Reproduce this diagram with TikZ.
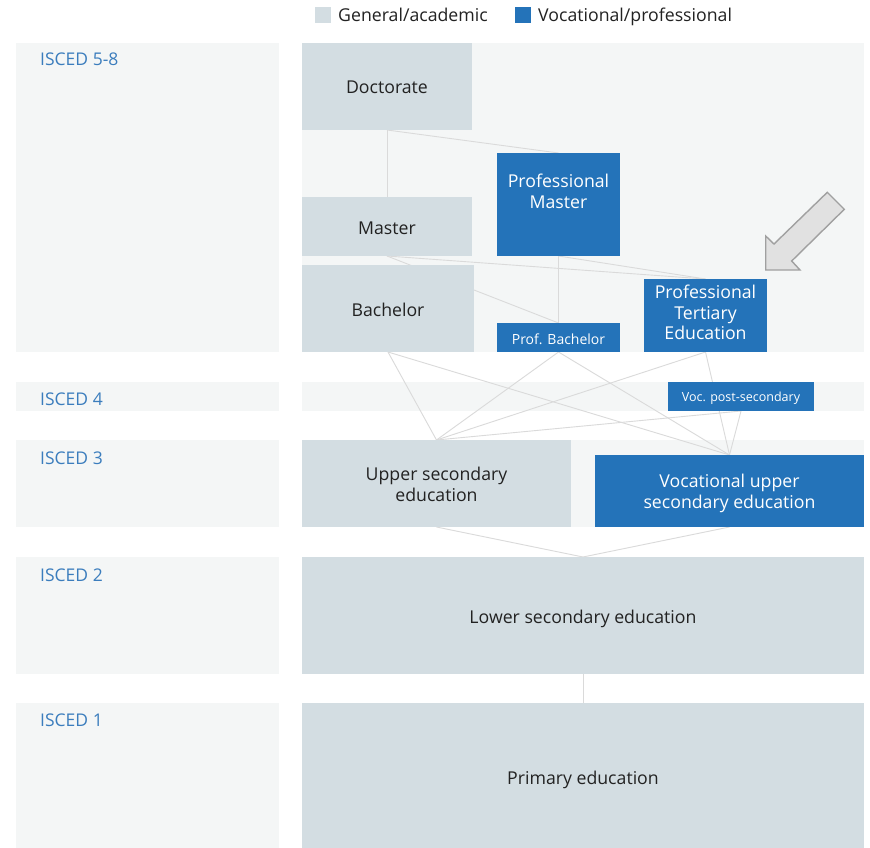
\documentclass[tikz,border=0pt]{standalone}
\usepackage{fontspec}
\setmainfont{Open Sans}
\definecolor{genc}{HTML}{D3DDE2}
\definecolor{vocc}{HTML}{2473B9}
\definecolor{bandc}{HTML}{F4F6F6}
\definecolor{labc}{HTML}{3B7DBD}
\definecolor{linec}{HTML}{DADADA}
\definecolor{txtc}{HTML}{222222}
\definecolor{arrf}{HTML}{E1E1E1}
\definecolor{arrd}{HTML}{A0A0A0}
\pgfdeclarelayer{bands}
\pgfdeclarelayer{lines}
\pgfsetlayers{bands,lines,main}
\begin{document}
\begin{tikzpicture}[x=1pt,y=-1pt,
  box/.style={inner sep=0pt, outer sep=0pt, minimum width=#1, anchor=north west},
  gen/.style={fill=genc, text=txtc},
  voc/.style={fill=vocc, text=white},
  txt/.style={font=\fontsize{17.7}{21}\selectfont, align=center, inner sep=0pt},
  lab/.style={font=\fontsize{17.5}{21}\selectfont, text=labc, anchor=base west, inner sep=0pt},
  conn/.style={draw=linec, line width=0.9pt}
]
\useasboundingbox (0,0) rectangle (870,848);

% bands
\begin{pgfonlayer}{bands}
\fill[white] (0,0) rectangle (870,848);
\fill[bandc] (16,43) rectangle (279,352);
\fill[bandc] (302,43) rectangle (864,352);
\fill[bandc] (16,382) rectangle (279,411);
\fill[bandc] (302,382) rectangle (864,411);
\fill[bandc] (16,440) rectangle (279,527);
\fill[bandc] (302,440) rectangle (864,527);
\fill[bandc] (16,557) rectangle (279,674);
\fill[bandc] (16,703) rectangle (279,848);
\end{pgfonlayer}

% level labels
\node[lab] (l58) at (40,66) {ISCED 5-8};
\node[lab] (l4) at (40,405) {ISCED 4};
\node[lab] (l3) at (40,464) {ISCED 3};
\node[lab] (l2) at (40,581) {ISCED 2};
\node[lab] (l1) at (40,726) {ISCED 1};

% legend
\fill[genc] (315,7) rectangle (331,23);
\node[anchor=base west, inner sep=0pt, text=txtc, font=\fontsize{17.7}{21}\selectfont] (lg1) at (338,21.5) {General/academic};
\fill[vocc] (515,7) rectangle (531,23);
\node[anchor=base west, inner sep=0pt, text=txtc, font=\fontsize{17.7}{21}\selectfont] (lg2) at (538,21.5) {Vocational/professional};

% boxes
\node[box=170pt, minimum height=87pt, gen] (doc) at (302,43) {};
\node[txt, text=txtc] (docT) at ([yshift=-1pt]doc.center) {Doctorate};
\node[box=170pt, minimum height=59pt, gen] (ms) at (302,197) {};
\node[txt, text=txtc] (msT) at ([yshift=-2pt]ms.center) {Master};
\node[box=172pt, minimum height=87pt, gen] (ba) at (302,265) {};
\node[txt, text=txtc] (baT) at ([yshift=-1.5pt]ba.center) {Bachelor};
\node[box=123pt, minimum height=103pt, voc] (pm) at (497,153) {};
\node[txt, text=white] (pmT) at (558.5,191) {Professional\\Master};
\node[box=123pt, minimum height=29pt, voc] (pb) at (497,323) {};
\node[txt, text=white, font=\fontsize{14}{17}\selectfont] (pbT) at ([yshift=-2pt]pb.center) {Prof. Bachelor};
\node[box=123pt, minimum height=73pt, voc] (pt) at (644,279) {};
\node[txt, text=white, font=\fontsize{17.7}{20.5}\selectfont] (ptT) at ([yshift=3pt]pt.center) {Professional\\Tertiary\\Education};
\node[box=146pt, minimum height=29pt, voc] (vps) at (668,382) {};
\node[txt, text=white, font=\fontsize{12.5}{15}\selectfont] (vpsT) at ([yshift=-2pt]vps.center) {Voc. post-secondary};
\node[box=269pt, minimum height=87pt, gen] (us) at (302,440) {};
\node[txt, text=txtc] (usT) at ([yshift=-0.5pt]us.center) {Upper secondary\\education};
\node[box=269pt, minimum height=72pt, voc] (vus) at (595,455) {};
\node[txt, text=white] (vusT) at ([yshift=-2pt]vus.center) {Vocational upper\\secondary education};
\node[box=562pt, minimum height=117pt, gen] (ls) at (302,557) {};
\node[txt, text=txtc] (lsT) at ([yshift=-3.5pt]ls.center) {Lower secondary education};
\node[box=562pt, minimum height=145pt, gen] (pr) at (302,703) {};
\node[txt, text=txtc] (prT) at ([yshift=-4.5pt]pr.center) {Primary education};

% connectors
\begin{pgfonlayer}{lines}
\draw[conn] (doc.south) -- (ms.north);
\draw[conn] (doc.south) -- (pm.north);
\draw[conn] (ms.south) -- (pt.north);
\draw[conn] (pm.south) -- (pt.north);
\draw[conn] (pm.south) -- (pb.north);
\draw[conn] (ms.south) -- (pb.north);
\draw[conn] (ba.south) -- (us.north);
\draw[conn] (ba.south) -- (vus.north);
\draw[conn] (pb.south) -- (us.north);
\draw[conn] (pb.south) -- (vus.north);
\draw[conn] (pt.south) -- (us.north);
\draw[conn] (pt.south) -- (vus.north);
\draw[conn] (vps.south) -- (us.north);
\draw[conn] (vps.south) -- (vus.north);
\draw[conn] (us.south) -- (ls.north);
\draw[conn] (vus.south) -- (ls.north);
\draw[conn] (ls.south) -- (pr.north);
\end{pgfonlayer}

% pointer arrow
\filldraw[fill=arrf, draw=arrd, line width=1.4pt, line join=miter]
  (765.7,270) -- (765.7,236) -- (774,244) -- (827.3,192.3) -- (844.3,209.3)
  -- (791.7,261) -- (800,270) -- cycle;
\end{tikzpicture}
\end{document}
